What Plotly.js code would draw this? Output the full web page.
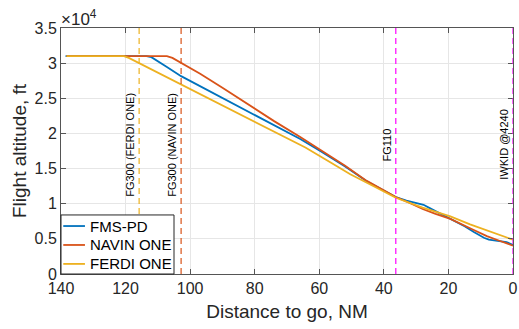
<!DOCTYPE html>
<html>
<head>
<meta charset="utf-8">
<script src="https://cdn.plot.ly/plotly-3.0.1.min.js"></script>
<style>
html,body{margin:0;padding:0;background:#fff;}
#chart{width:519px;height:329px;}
</style>
</head>
<body>
<div id="chart"></div>
<script>
// ---- data ----
const seriesNames = ['FMS-PD', 'NAVIN ONE', 'FERDI ONE'];
const seriesColors = ['#0072BD', '#D95319', '#EDB120'];

const fmsDist = [138.6, 113.5, 112, 110, 107.2, 102.8, 96, 90, 81.4, 74, 65.9, 59.7, 52, 45.3, 40, 36.3, 33, 30, 27.7, 25.5, 22, 19.4, 15, 12, 9, 7.5, 5, 2, 0];
const fmsAlt  = [31000, 31000, 30850, 30300, 29450, 28150, 26500, 25050, 22950, 21100, 19200, 17500, 15300, 13200, 11900, 10950, 10450, 10050, 9850, 9300, 8500, 7850, 6800, 5950, 5150, 4900, 4750, 4550, 4130];

const navinDist = [138.3, 107.2, 105.5, 104, 102.8, 100, 96.9, 90, 81.4, 74, 65.9, 59.7, 52, 45.3, 40, 36.3, 32, 28, 24, 19.4, 13.3, 8.1, 4, 0];
const navinAlt  = [31000, 31000, 30750, 30350, 29980, 29250, 28500, 26500, 23900, 21750, 19500, 17650, 15400, 13250, 11950, 10950, 10100, 9250, 8550, 7850, 6500, 5400, 4700, 4030];

const ferdiDist = [138.3, 120.5, 119, 115.7, 110, 100, 90, 81.4, 74, 64.3, 57, 50.4, 43, 36.3, 28, 19.4, 13.3, 8.1, 0];
const ferdiAlt  = [31000, 31000, 30750, 29980, 28650, 26300, 24000, 22000, 20200, 18000, 16000, 14200, 12450, 10850, 9450, 8200, 7050, 6200, 4880];

// vertical markers
const markerDist   = [115.8, 102.8, 36.3, 0];
const markerLabels = ['FG300 (FERDI ONE)', 'FG300 (NAVIN ONE)', 'FG110', 'IWKID @4240'];
const markerColors = ['#EDB120', '#D95319', '#FF00FF', '#FF00FF'];
const markerLabelAlt = 18400;

// axes
const xTickVals = [140, 120, 100, 80, 60, 40, 20, 0];
const yTickVals = [0, 5000, 10000, 15000, 20000, 25000, 30000, 35000];
const yTickText = ['0', '0.5', '1', '1.5', '2', '2.5', '3', '3.5'];
const yExponentText = '×10<sup>4</sup>';

const FONT = 'Liberation Sans, Arial, sans-serif';

// ---- traces ----
const dists = [fmsDist, navinDist, ferdiDist];
const alts = [fmsAlt, navinAlt, ferdiAlt];
const traces = seriesNames.map((n, i) => ({
  type: 'scatter', mode: 'lines', name: n,
  x: dists[i], y: alts[i],
  line: {color: seriesColors[i], width: 1.8},
  showlegend: false
}));

const shapes = markerDist.map((d, i) => ({
  type: 'line', xref: 'x', yref: 'paper', x0: d, x1: d, y0: 0, y1: 1,
  line: {color: markerColors[i], width: 1.2, dash: '6px,4px'}, layer: 'above'
}));

const annotations = markerDist.map((d, i) => ({
  xref: 'x', yref: 'y', x: d, y: markerLabelAlt, text: markerLabels[i],
  textangle: -90, showarrow: false, xanchor: 'right', yanchor: 'middle',
  xshift: -1, font: {family: FONT, size: 11, color: '#000'}
}));

// ---- custom legend (MATLAB-like compact box, lower-left) ----
const legBox = {x0: 0, x1: 0.25, y0: 0, y1: 0.24};
const legRows = [0.195, 0.118, 0.041];
shapes.push({
  type: 'rect', xref: 'paper', yref: 'paper',
  x0: legBox.x0, x1: legBox.x1, y0: legBox.y0, y1: legBox.y1,
  fillcolor: '#fff', line: {color: '#262626', width: 1}, layer: 'above'
});
seriesNames.forEach((n, i) => {
  shapes.push({
    type: 'line', xref: 'paper', yref: 'paper',
    x0: 0.005, x1: 0.053, y0: legRows[i], y1: legRows[i],
    line: {color: seriesColors[i], width: 1.8}, layer: 'above'
  });
  annotations.push({
    xref: 'paper', yref: 'paper', x: 0.06, y: legRows[i],
    xanchor: 'left', yanchor: 'middle', showarrow: false, text: n,
    font: {family: FONT, size: 15, color: '#000'}
  });
});

const axisCommon = {
  showline: true, linecolor: '#555', linewidth: 1, mirror: 'ticks',
  ticks: 'inside', ticklen: 5, tickcolor: '#555',
  showgrid: true, gridcolor: '#E6E6E6', gridwidth: 1, zeroline: false,
  tickfont: {family: FONT, size: 16, color: '#262626'}
};

const layout = {
  width: 519, height: 329,
  margin: {l: 61, r: 6, t: 28, b: 55},
  paper_bgcolor: '#fff', plot_bgcolor: '#fff',
  showlegend: false,
  title: {
    text: yExponentText, xref: 'paper', x: 0, xanchor: 'left',
    yref: 'container', y: 0.924, yanchor: 'bottom',
    pad: {t: 0, b: 0, l: 0, r: 0},
    font: {family: FONT, size: 17, color: '#262626'}
  },
  xaxis: Object.assign({}, axisCommon, {
    range: [140, 0], tickvals: xTickVals, ticktext: xTickVals.map(String),
    title: {text: 'Distance to go, NM', standoff: 8,
      font: {family: FONT, size: 19, color: '#262626'}}
  }),
  yaxis: Object.assign({}, axisCommon, {
    range: [0, 35000], tickvals: yTickVals, ticktext: yTickText,
    title: {text: 'Flight altitude, ft', standoff: 2,
      font: {family: FONT, size: 19, color: '#262626'}}
  }),
  shapes: shapes,
  annotations: annotations
};

Plotly.newPlot('chart', traces, layout, {displayModeBar: false, staticPlot: true});
</script>
</body>
</html>
